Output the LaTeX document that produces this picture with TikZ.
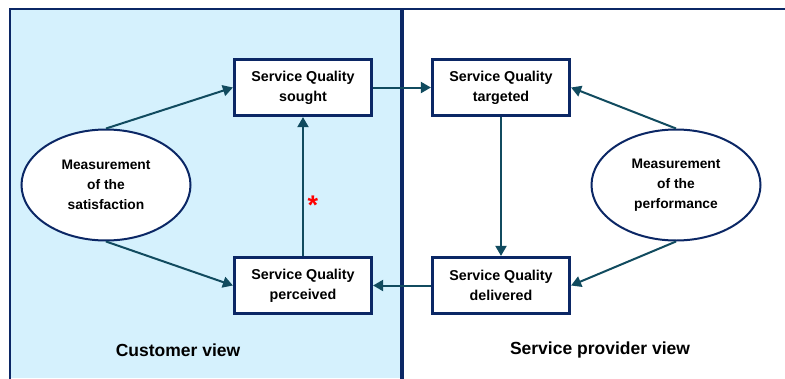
\documentclass[tikz,border=0pt]{standalone}
\usepackage{fontspec}
\setmainfont{Liberation Sans}
\usetikzlibrary{arrows.meta}
\definecolor{navy}{HTML}{0B2765}
\definecolor{teal2}{HTML}{114B5F}
\definecolor{lightblue}{HTML}{D5F1FD}
\tikzset{
  qbox/.style={draw=navy, line width=3.2pt, fill=white, minimum width=137pt, minimum height=56pt,
    align=center, font=\fontsize{14.3}{20}\selectfont\bfseries, inner sep=0pt},
  meas/.style={draw=navy, line width=2pt, fill=white, ellipse, minimum width=169pt, minimum height=111pt,
    align=center, font=\fontsize{13.8}{20}\selectfont\bfseries, inner sep=0pt},
  conn/.style={draw=teal2, line width=2pt, -{Triangle[length=10pt,width=11pt]}},
  viewlbl/.style={font=\fontsize{17.5}{20}\selectfont\bfseries, inner sep=0pt}
}
\usetikzlibrary{shapes.geometric}
\begin{document}
\begin{tikzpicture}[x=1pt,y=-1pt]
\useasboundingbox (0,0) rectangle (785,378);
\fill[white] (0,0) rectangle (785,378);
\fill[lightblue] (10,9) rectangle (402,378);
\draw[navy, line width=2.8pt] (10,380) -- (10,9) -- (790,9);
\draw[navy, line width=3.2pt] (402,9) -- (402,380);

\node[qbox] (sought) at (303,87.5) {Service Quality\\sought};
\node[qbox] (targeted) at (501,87.5) {Service Quality\\targeted};
\node[qbox] (perceived) at (303,285.5) {Service Quality\\perceived};
\node[qbox] (delivered) at (501,285.5) {Service Quality\\delivered};

\node[meas] (sat) at (106,185) {Measurement\\of the\\satisfaction};
\node[meas] (perf) at (676,185) {Measurement\\of the\\performance};

\draw[conn] (sat.north) -- (sought.west);
\draw[conn] (sat.south) -- (perceived.west);
\draw[conn] (perceived.north) -- (sought.south);
\draw[conn] (sought.east) -- (targeted.west);
\draw[conn] (targeted.south) -- (delivered.north);
\draw[conn] (perf.north) -- (targeted.east);
\draw[conn] (perf.south) -- (delivered.east);
\draw[conn] (delivered.west) -- (perceived.east);

\node[text=red, font=\fontsize{27}{27}\selectfont\bfseries, inner sep=0pt] (ast) at (313,205) {*};

\node[viewlbl] (cv) at (178,350) {Customer view};
\node[viewlbl] (sv) at (600,350) {Service provider view};
\end{tikzpicture}
\end{document}
